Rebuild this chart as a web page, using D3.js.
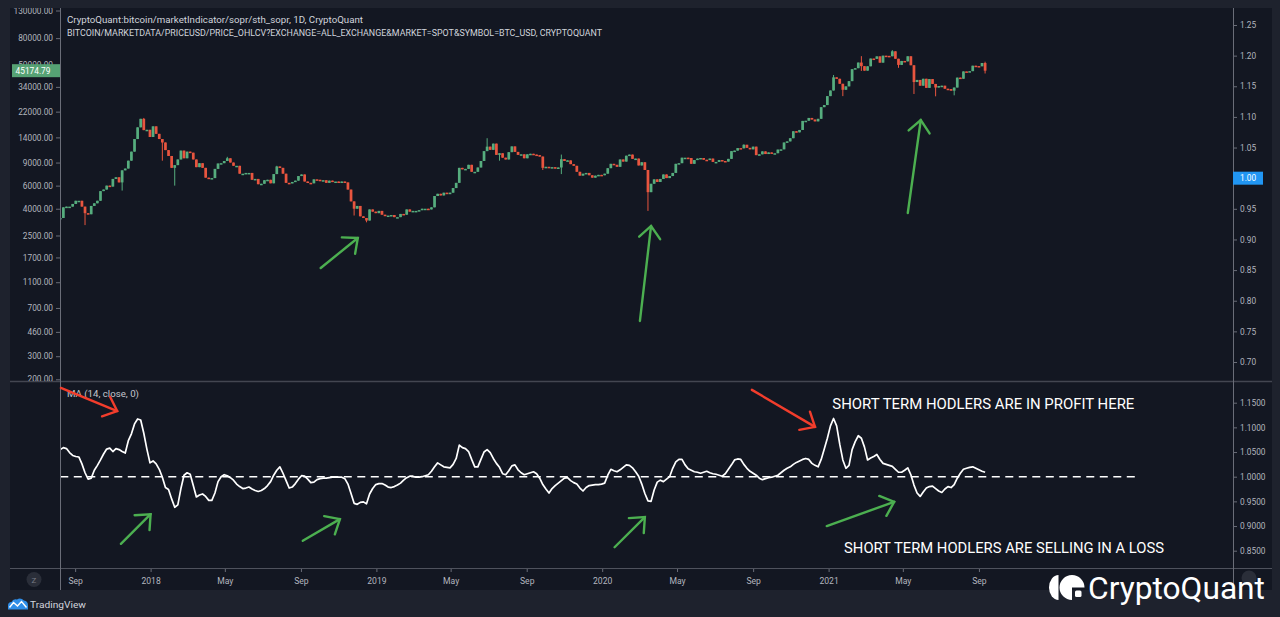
<!DOCTYPE html>
<html>
<head>
<meta charset="utf-8">
<title>STH SOPR vs BTC price</title>
<script src="https://cdn.jsdelivr.net/npm/d3@7"></script>
<style>
  html, body { margin: 0; padding: 0; background: #1e222d; overflow: hidden; }
  svg { display: block; font-family: Roboto, "Noto Sans", sans-serif; }
</style>
</head>
<body>
<div id="chart"></div>
<script>
// ---------------- data (5-day closes) ----------------
var startDate = "2017-08-08";
var stepDays = 5;

var close2017 = [3400, 4100, 4150, 4150, 4350, 4600, 4600, 4150, 3700, 3630, 4200, 4400, 4600, 5450, 5600,
  6000, 5900, 6750, 6950, 6350, 7850, 8100, 9300, 10900, 13600, 16700, 19400, 15900, 16000, 14100];
var close2018 = [17000, 14900, 13600, 12800, 11200, 10100, 8200, 8600, 9500, 11100, 9700,
  10900, 10700, 9500, 8300, 8900, 8200, 6900, 6800, 6850, 8050, 8850, 8900, 9250,
  9700, 9000, 8500, 8500, 7400, 7400, 7500, 7500, 6650, 6750, 6150, 6200,
  6600, 6650, 6250, 7350, 8400, 8200, 7400, 6300, 6250, 6400, 6550, 7100,
  7300, 6450, 6300, 6250, 6700, 6650, 6550, 6600, 6300, 6550, 6450, 6450,
  6350, 6450, 6350, 5600, 4550, 4000, 4200, 3500, 3400, 3250, 3950, 3800, 3700];
var close2019 = [3850, 3600, 3550, 3550, 3580, 3450, 3450, 3650, 3600, 3950, 3800,
  3850, 3850, 3900, 4000, 4000, 3950, 4100, 5000, 5200, 5050, 5300, 5200, 5300,
  5750, 6300, 8200, 8000, 8050, 8650, 7650, 7650, 8250, 9250, 11000, 11900,
  11250, 12550, 10300, 10600, 9800, 9500, 10800, 11950, 10850, 10300, 10400, 9700,
  10400, 10500, 10350, 10250, 10000, 8200, 8350, 8200, 8300, 8100, 8250, 9550,
  9250, 9350, 8750, 8500, 7650, 7150, 7400, 7500, 7200, 6900, 7150, 7250, 7200];
var close2020 = [7400, 8150, 8800, 8650, 8350, 9500, 9150, 10150, 10350, 9600, 9650, 8550,
  9050, 7900, 5350, 6200, 6700, 6400, 6750, 7300, 6850, 7100, 7500, 8800,
  8900, 9800, 9800, 9750, 8800, 9400, 9650, 9750, 9450, 9400, 9650, 9100,
  9100, 9400, 9250, 9150, 9600, 11000, 11100, 11600, 11550, 12300, 11650, 11350,
  11900, 10250, 10400, 10950, 10450, 10750, 10600, 10600, 11300, 11350, 12800, 13050, 13800,
  15600, 15300, 15950, 18700, 18750, 19700, 19150, 18550, 19400, 23800, 24700, 28900];
var close2021 = [31900, 40200, 39200, 35900, 32300, 34300, 37600, 46400, 47200, 52100, 48900, 45200,
  48800, 55900, 55600, 58100, 52000, 58800, 58600, 58200, 63500, 55700, 50000, 53600,
  53200, 58200, 49700, 37000, 38400, 34700, 39200, 33400, 39000, 35800, 33600, 34500,
  34700, 32900, 32700, 31800, 33600, 40000, 39200, 44600, 44400, 44800, 49300, 49000,
  48800, 51700, 45174.79];

// notable wicks inside a 5-day candle: [candle date, price]
var lowWicks = [["2017-09-17", 3000], ["2017-11-16", 5500], ["2018-01-20", 9300], ["2018-02-09", 6000],
  ["2018-11-26", 3550], ["2018-12-16", 3150], ["2019-07-19", 9300], ["2019-09-27", 7900],
  ["2019-10-27", 7350], ["2020-03-15", 3850], ["2021-01-24", 28900], ["2021-02-23", 45000],
  ["2021-04-24", 47500], ["2021-05-19", 30000], ["2021-06-23", 28800], ["2021-07-23", 29300],
  ["2021-09-11", 43000]];
var highWicks = [["2017-12-21", 19700], ["2018-05-05", 9950], ["2018-07-24", 8500], ["2019-06-29", 13800],
  ["2019-10-27", 10350], ["2020-08-17", 12400], ["2021-01-09", 41900], ["2021-02-23", 58300],
  ["2021-04-14", 64800], ["2021-09-11", 52900]];

// STH-SOPR, 14 day MA
var sopr2017 = [1.055, 1.059, 1.057, 1.049, 1.043, 1.041, 1.040, 1.026, 1.008, 0.995, 0.997, 1.013, 1.023, 1.034, 1.046,
  1.056, 1.058, 1.051, 1.057, 1.055, 1.051, 1.048, 1.073, 1.087, 1.107, 1.117, 1.115, 1.088, 1.056, 1.028];
var sopr2018 = [1.032, 1.026, 1.015, 0.999, 0.978, 0.974, 0.955, 0.938, 0.943, 0.976,
  1.003, 1.008, 1.005, 0.982, 0.959, 0.963, 0.965, 0.960, 0.952, 0.952,
  0.967, 0.990, 1.000, 1.004, 1.002, 0.998, 0.993, 0.985, 0.980, 0.976,
  0.977, 0.979, 0.975, 0.972, 0.970, 0.972, 0.976, 0.982, 0.990, 1.003,
  1.013, 1.020, 1.007, 0.992, 0.977, 0.979, 0.986, 0.995, 1.002, 1.001,
  0.995, 0.988, 0.989, 0.994, 0.996, 0.997, 0.997, 0.998, 0.999, 0.999,
  0.999, 0.999, 0.996, 0.985, 0.966, 0.946, 0.944, 0.948, 0.949, 0.945,
  0.965, 0.976, 0.984];
var sopr2019 = [0.986, 0.986, 0.983, 0.979, 0.978, 0.980, 0.983,
  0.987, 0.993, 0.998, 1.001, 1.001, 0.999, 0.999, 1.000, 1.002, 1.004,
  1.011, 1.020, 1.028, 1.024, 1.020, 1.019, 1.018, 1.025, 1.037, 1.064,
  1.059, 1.057, 1.051, 1.035, 1.020, 1.020, 1.035, 1.050, 1.055, 1.049,
  1.037, 1.027, 1.019, 1.006, 1.004, 1.012, 1.022, 1.024, 1.014, 1.008,
  1.004, 1.006, 1.008, 1.010, 1.006, 0.997, 0.984, 0.975, 0.967, 0.976,
  0.982, 0.987, 0.992, 0.997, 0.998, 0.992, 0.988, 0.985, 0.977, 0.971,
  0.978, 0.982, 0.983, 0.984, 0.984, 0.985];
var sopr2020 = [0.987, 1.003, 1.015, 1.012,
  1.010, 1.014, 1.019, 1.024, 1.023, 1.018, 1.010, 1.001, 0.985, 0.966,
  0.951, 0.950, 0.973, 0.989, 0.993, 0.990, 0.995, 1.000, 1.017, 1.030,
  1.035, 1.035, 1.024, 1.016, 1.013, 1.010, 1.009, 1.007, 1.009, 1.011,
  1.008, 1.006, 1.005, 1.003, 1.001, 1.006, 1.015, 1.024, 1.034, 1.036,
  1.035, 1.025, 1.017, 1.011, 1.007, 1.003, 0.997, 0.994, 0.996, 0.998,
  0.999, 1.001, 1.003, 1.008, 1.013, 1.017, 1.020, 1.025, 1.029, 1.032,
  1.035, 1.037, 1.035, 1.027, 1.023, 1.020, 1.035, 1.056, 1.078];
var sopr2021 = [1.103, 1.118, 1.103, 1.066, 1.034, 1.017, 1.023, 1.055, 1.071, 1.083,
  1.078, 1.060, 1.034, 1.038, 1.041, 1.045, 1.035, 1.027, 1.025, 1.023,
  1.021, 1.015, 1.009, 1.009, 1.013, 1.018, 1.004, 0.983, 0.967, 0.960,
  0.969, 0.977, 0.980, 0.981, 0.976, 0.971, 0.968, 0.975, 0.980, 0.978,
  0.984, 0.997, 1.007, 1.015, 1.017, 1.019, 1.020, 1.017, 1.014, 1.011,
  1.009];

var priceTicks = [130000, 80000, 50000, 34000, 22000, 14000, 9000, 6000, 4000, 2500, 1700, 1100, 700, 460, 300, 200];
var soprTopTicks = [1.25, 1.20, 1.15, 1.10, 1.05, 1.00, 0.95, 0.90, 0.85, 0.80, 0.75, 0.70];
var soprTicks = [1.15, 1.10, 1.05, 1.00, 0.95, 0.90, 0.85];
var timeTickDates = ["2017-09-01", "2018-01-01", "2018-05-01", "2018-09-01", "2019-01-01", "2019-05-01", "2019-09-01",
  "2020-01-01", "2020-05-01", "2020-09-01", "2021-01-01", "2021-05-01", "2021-09-01"];
var timeTickLabels = ["Sep", "2018", "May", "Sep", "2019", "May", "Sep", "2020", "May", "Sep", "2021", "May", "Sep"];
var lastPrice = 45174.79;
var lastSopr = 1.00;
var baselineEnd = "2022-05-11";

// hand-drawn annotations, in chart coordinates [date, value]
var priceArrows = [
  [["2018-10-03", 1413], ["2018-12-02", 2393]],
  [["2020-03-02", 557], ["2020-03-20", 2954]],
  [["2021-05-09", 3711], ["2021-05-30", 19000]]
];
var greenArrows = [
  [["2017-11-14", 0.864], ["2018-01-01", 0.924]],
  [["2018-09-04", 0.870], ["2018-11-03", 0.914]],
  [["2020-01-21", 0.857], ["2020-03-10", 0.918]],
  [["2020-12-29", 0.900], ["2021-04-17", 0.949]]
];
var redArrows = [
  [["2017-08-09", 1.180], ["2017-11-08", 1.133]],
  [["2020-08-30", 1.176], ["2020-12-10", 1.101]]
];

//--------------------------------

var parseDay = d3.utcParse("%Y-%m-%d");
var fmtDay = d3.utcFormat("%Y-%m-%d");
var firstDay = parseDay(startDate);

var priceCloses = [].concat(close2017, close2018, close2019, close2020, close2021);
var soprValues = [].concat(sopr2017, sopr2018, sopr2019, sopr2020, sopr2021);

var candles = priceCloses.map(function (c, i) {
  var o = i > 0 ? priceCloses[i - 1] : c;
  return { date: d3.utcDay.offset(firstDay, i * stepDays), open: o, close: c, high: Math.max(o, c), low: Math.min(o, c) };
});
var byDay = {};
candles.forEach(function (d) { byDay[fmtDay(d.date)] = d; });
lowWicks.forEach(function (w) { if (byDay[w[0]]) byDay[w[0]].low = Math.min(byDay[w[0]].low, w[1]); });
highWicks.forEach(function (w) { if (byDay[w[0]]) byDay[w[0]].high = Math.max(byDay[w[0]].high, w[1]); });

var sopr = soprValues.map(function (v, i) {
  return { date: d3.utcDay.offset(firstDay, i * stepDays), v: v };
});

// scales
var x = d3.scaleUtc().domain([parseDay("2018-01-01"), parseDay("2021-01-01")]).range([150.6, 828.6]);
var yPrice = d3.scaleLog().domain([200, 130000]).range([379.3, 10.5]);
var ySoprTop = d3.scaleLinear().domain([0.70, 1.25]).range([362, 25]);
var ySopr = d3.scaleLinear().domain([0.85, 1.15]).range([550.7, 402.7]);

var upColor = "#56ad7e", downColor = "#e8553f";
var axisText = "#b2b5be", lineGray = "#4f525d";

var svg = d3.select("#chart").append("svg").attr("width", 1280).attr("height", 617);

svg.append("rect").attr("width", 1280).attr("height", 617).attr("fill", "#1e222d");
svg.append("rect").attr("x", 10).attr("y", 8).attr("width", 1262).attr("height", 582).attr("fill", "#131722");

var defs = svg.append("defs");
defs.append("clipPath").attr("id", "topPane").append("rect").attr("x", 60).attr("y", 8).attr("width", 1173).attr("height", 373);
defs.append("clipPath").attr("id", "lowPane").append("rect").attr("x", 60).attr("y", 381).attr("width", 1173).attr("height", 188);
defs.append("clipPath").attr("id", "leftTop").append("rect").attr("x", 10).attr("y", 8).attr("width", 50).attr("height", 373);

// ---- price candles ----
var bw = (x(d3.utcDay.offset(firstDay, stepDays)) - x(firstDay)) * 0.88;
var gPrice = svg.append("g").attr("clip-path", "url(#topPane)");
gPrice.selectAll("line.wick").data(candles).enter().append("line")
  .attr("class", "wick")
  .attr("x1", function (d) { return x(d.date); })
  .attr("x2", function (d) { return x(d.date); })
  .attr("y1", function (d) { return yPrice(d.high); })
  .attr("y2", function (d) { return yPrice(d.low); })
  .attr("stroke", function (d) { return d.close >= d.open ? upColor : downColor; })
  .attr("stroke-width", 1);
gPrice.selectAll("rect.body").data(candles).enter().append("rect")
  .attr("class", "body")
  .attr("x", function (d) { return x(d.date) - bw / 2; })
  .attr("y", function (d) { return yPrice(Math.max(d.open, d.close)); })
  .attr("width", bw)
  .attr("height", function (d) { return Math.max(1.5, yPrice(Math.min(d.open, d.close)) - yPrice(Math.max(d.open, d.close))); })
  .attr("fill", function (d) { return d.close >= d.open ? upColor : downColor; });

// ---- SOPR pane ----
var gLow = svg.append("g").attr("clip-path", "url(#lowPane)");
gLow.append("line")
  .attr("x1", x(firstDay)).attr("x2", x(parseDay(baselineEnd)))
  .attr("y1", ySopr(1)).attr("y2", ySopr(1))
  .attr("stroke", "#ffffff").attr("stroke-width", 1.6).attr("stroke-dasharray", "8,5.5");
gLow.append("path").datum(sopr)
  .attr("d", d3.line().x(function (d) { return x(d.date); }).y(function (d) { return ySopr(d.v); }))
  .attr("fill", "none").attr("stroke", "#ffffff").attr("stroke-width", 1.7).attr("stroke-linejoin", "round");

// ---- frame lines ----
svg.append("line").attr("x1", 10).attr("x2", 1272).attr("y1", 381.5).attr("y2", 381.5).attr("stroke", "#434651").attr("stroke-width", 1.5);
svg.append("line").attr("x1", 10).attr("x2", 1272).attr("y1", 568.5).attr("y2", 568.5).attr("stroke", lineGray);
svg.append("line").attr("x1", 60.5).attr("x2", 60.5).attr("y1", 8).attr("y2", 590).attr("stroke", "#6a6d78");
svg.append("line").attr("x1", 1233.5).attr("x2", 1233.5).attr("y1", 8).attr("y2", 590).attr("stroke", "#6a6d78");

function styleAxis(g) {
  g.select(".domain").remove();
  g.selectAll(".tick line").attr("stroke", "#6a6d78");
  g.selectAll(".tick text").attr("fill", axisText).attr("font-size", 8.3).attr("font-family", "Roboto, sans-serif");
}

// left price axis (the 50000 label sits under the last-price tag, as in the original)
svg.append("g").attr("clip-path", "url(#leftTop)")
  .append("g").attr("transform", "translate(60,0)")
  .call(d3.axisLeft(yPrice).tickValues(priceTicks).tickFormat(d3.format(".2f")).tickSize(4).tickPadding(3))
  .call(styleAxis);

// right axes
svg.append("g").attr("transform", "translate(1233,0)")
  .call(d3.axisRight(ySoprTop).tickValues(soprTopTicks).tickFormat(d3.format(".2f")).tickSize(4).tickPadding(3))
  .call(styleAxis);
svg.append("g").attr("transform", "translate(1233,0)")
  .call(d3.axisRight(ySopr).tickValues(soprTicks).tickFormat(d3.format(".4f")).tickSize(4).tickPadding(3))
  .call(styleAxis);

// time axis
svg.append("g").attr("transform", "translate(0,569)")
  .call(d3.axisBottom(x).tickValues(timeTickDates.map(parseDay))
    .tickFormat(function (d, i) { return timeTickLabels[i]; }).tickSize(3).tickPadding(5.5))
  .call(styleAxis)
  .call(function (g) { g.selectAll(".tick text").attr("font-size", 8.6); });

// last value labels
var yLast = yPrice(lastPrice);
svg.append("rect").attr("x", 12).attr("y", yLast - 6.5).attr("width", 48).attr("height", 13).attr("fill", "#56a274");
svg.append("text").attr("x", 33).attr("y", yLast + 3).attr("text-anchor", "middle")
  .attr("fill", "#ffffff").attr("font-size", 8.3).text(d3.format(".2f")(lastPrice));
var ySL = ySoprTop(lastSopr);
svg.append("rect").attr("x", 1233).attr("y", ySL - 6.5).attr("width", 30).attr("height", 13).attr("fill", "#2196f3");
svg.append("text").attr("x", 1240).attr("y", ySL + 3).attr("fill", "#ffffff").attr("font-size", 8.3).text(d3.format(".2f")(lastSopr));

// headers
svg.append("text").attr("x", 67).attr("y", 22.5).attr("fill", "#d1d4dc").attr("font-size", 8.6)
  .attr("textLength", 296).attr("lengthAdjust", "spacingAndGlyphs")
  .text("CryptoQuant:bitcoin/marketIndicator/sopr/sth_sopr, 1D, CryptoQuant");
svg.append("text").attr("x", 67).attr("y", 35.5).attr("fill", "#d1d4dc").attr("font-size", 8.6)
  .attr("textLength", 535).attr("lengthAdjust", "spacingAndGlyphs")
  .text("BITCOIN/MARKETDATA/PRICEUSD/PRICE_OHLCV?EXCHANGE=ALL_EXCHANGE&MARKET=SPOT&SYMBOL=BTC_USD, CRYPTOQUANT");
svg.append("text").attr("x", 67).attr("y", 397).attr("fill", "#c3c6ce").attr("font-size", 9)
  .attr("textLength", 72).attr("lengthAdjust", "spacingAndGlyphs")
  .text("MA (14, close, 0)");

// ---- annotations ----
function drawArrow(p0, p1, color) {
  var ang = Math.atan2(p0[1] - p1[1], p0[0] - p1[0]);
  var len = 16, spread = 0.72;
  var h1 = [p1[0] + len * Math.cos(ang + spread), p1[1] + len * Math.sin(ang + spread)];
  var h2 = [p1[0] + len * Math.cos(ang - spread), p1[1] + len * Math.sin(ang - spread)];
  var g = svg.append("g").attr("fill", "none").attr("stroke", color).attr("stroke-width", 2.4).attr("stroke-linecap", "round");
  g.append("path").attr("d", d3.line()([p0, p1]));
  g.append("path").attr("d", d3.line()([h1, p1, h2])).attr("stroke-linejoin", "miter");
}
priceArrows.forEach(function (a) {
  drawArrow([x(parseDay(a[0][0])), yPrice(a[0][1])], [x(parseDay(a[1][0])), yPrice(a[1][1])], "#4caf50");
});
greenArrows.forEach(function (a) {
  drawArrow([x(parseDay(a[0][0])), ySopr(a[0][1])], [x(parseDay(a[1][0])), ySopr(a[1][1])], "#4caf50");
});
redArrows.forEach(function (a) {
  drawArrow([x(parseDay(a[0][0])), ySopr(a[0][1])], [x(parseDay(a[1][0])), ySopr(a[1][1])], "#f23d2c");
});

svg.append("text").attr("x", x(parseDay("2021-01-07"))).attr("y", ySopr(1.137))
  .attr("fill", "#ffffff").attr("font-size", 15).attr("textLength", 302).attr("lengthAdjust", "spacingAndGlyphs")
  .text("SHORT TERM HODLERS ARE IN PROFIT HERE");
svg.append("text").attr("x", x(parseDay("2021-01-26"))).attr("y", ySopr(0.845))
  .attr("fill", "#ffffff").attr("font-size", 15).attr("textLength", 320).attr("lengthAdjust", "spacingAndGlyphs")
  .text("SHORT TERM HODLERS ARE SELLING IN A LOSS");

// ---- buttons and logos ----
svg.append("circle").attr("cx", 34).attr("cy", 579.5).attr("r", 7.5).attr("fill", "#2a2e39");
svg.append("text").attr("x", 34).attr("y", 582.5).attr("text-anchor", "middle").attr("fill", "#787b86").attr("font-size", 8).text("Z");
svg.append("circle").attr("cx", 1249).attr("cy", 578).attr("r", 7.5).attr("fill", "#2a2e39");

// TradingView
svg.append("path").attr("d", "M8,609.5 L8,605.5 Q8,602 11.5,602 Q13,598.5 17,599.5 Q20.5,597 24,600.5 Q28,601 28,605.5 L28,609.5 Z").attr("fill", "#2f8ee8");
svg.append("path").attr("d", "M9.5,607.5 L13.5,602.5 L17.5,606 L21.5,601.5 L26.5,607.5").attr("fill", "none").attr("stroke", "#ffffff").attr("stroke-width", 1.4);
svg.append("text").attr("x", 30).attr("y", 607.5).attr("fill", "#d1d4dc").attr("font-size", 9.5)
  .attr("textLength", 56).attr("lengthAdjust", "spacingAndGlyphs").text("TradingView");

// CryptoQuant
svg.append("path").attr("d", "M1058.5,575 A9.5,12.5 0 0 0 1058.5,600 Z").attr("fill", "#ffffff");
svg.append("path").attr("d", "M1084.5,587.5 A12.5,12.5 0 1 0 1072,600 L1072,587.5 Z").attr("fill", "#ffffff");
svg.append("rect").attr("x", 1075).attr("y", 590.5).attr("width", 6.5).attr("height", 6.5).attr("rx", 1.5).attr("fill", "#ffffff");
svg.append("text").attr("x", 1088).attr("y", 598.5).attr("fill", "#ffffff").attr("font-size", 31)
  .attr("textLength", 177).attr("lengthAdjust", "spacingAndGlyphs").text("CryptoQuant");
</script>
</body>
</html>
